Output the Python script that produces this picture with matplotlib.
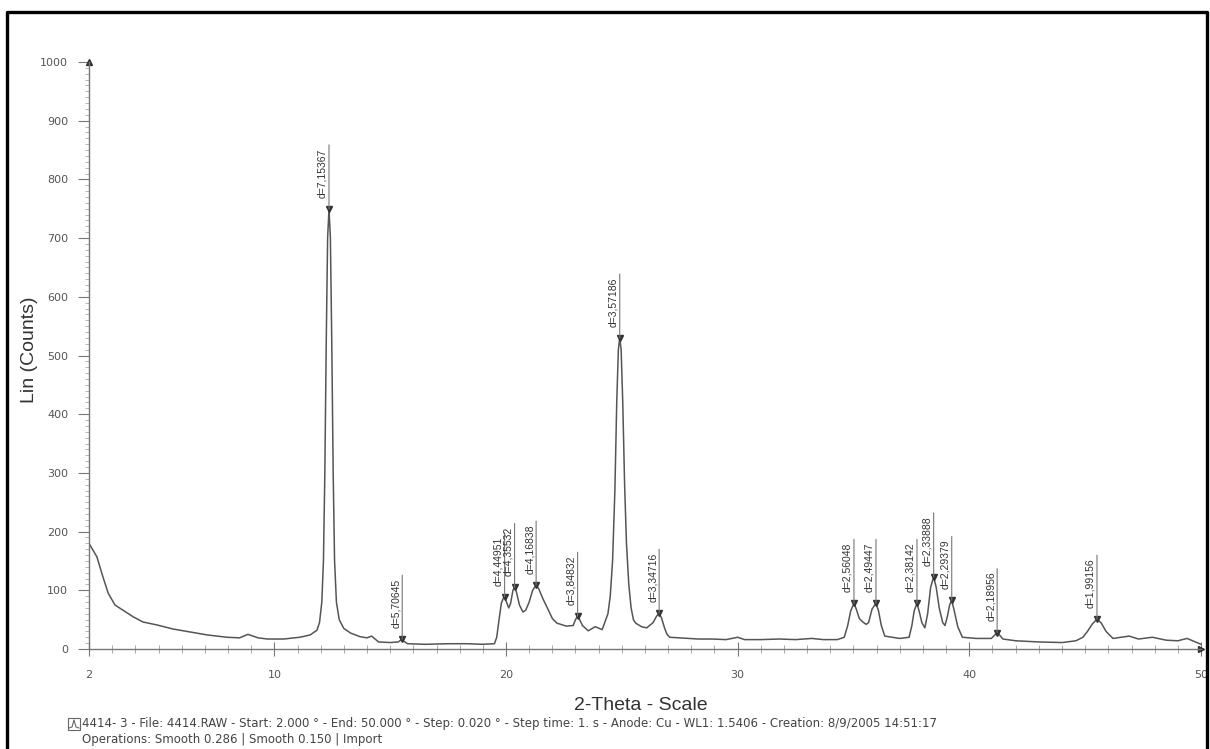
import matplotlib.pyplot as plt
from matplotlib.lines import Line2D
from matplotlib.patches import Rectangle
from matplotlib.ticker import MultipleLocator, FixedLocator

# XRD pattern: 2-theta (deg) and Lin (counts)
two_theta = [2.0, 2.34, 2.6, 2.83, 3.12, 3.47, 3.9, 4.33, 4.93, 5.63, 6.36, 7.1,
             7.95, 8.5, 8.86, 9.3, 9.7, 10.4, 11.1, 11.55, 11.84, 11.95, 12.05,
             12.12, 12.18, 12.24, 12.3, 12.36, 12.42, 12.48, 12.54, 12.6, 12.68,
             12.8, 13.0, 13.3, 13.7, 14.0, 14.2, 14.5, 15.0, 15.35, 15.45, 15.52,
             15.6, 15.75, 16.5, 17.5, 18.3, 19.0, 19.5, 19.6, 19.7, 19.8, 19.9,
             19.94, 20.02, 20.12, 20.2, 20.3, 20.37, 20.45, 20.58, 20.73, 20.85,
             21.0, 21.15, 21.3, 21.42, 21.6, 21.76, 22.0, 22.2, 22.6, 22.9, 23.0,
             23.09, 23.18, 23.3, 23.55, 23.85, 24.15, 24.4, 24.5, 24.6, 24.7,
             24.78, 24.85, 24.91, 24.97, 25.04, 25.12, 25.2, 25.3, 25.4, 25.5,
             25.6, 25.85, 26.07, 26.35, 26.5, 26.61, 26.72, 26.85, 26.95, 27.07,
             27.5, 28.3, 28.9, 29.5, 30.0, 30.3, 31.0, 31.8, 32.5, 33.2, 33.7,
             34.3, 34.6, 34.75, 34.88, 35.02, 35.12, 35.25, 35.4, 35.55, 35.65,
             35.8, 35.97, 36.08, 36.2, 36.35, 37.0, 37.4, 37.52, 37.62, 37.74,
             37.85, 37.95, 38.08, 38.2, 38.33, 38.46, 38.57, 38.7, 38.85, 38.95,
             39.05, 39.15, 39.24, 39.35, 39.5, 39.7, 40.3, 40.95, 41.1, 41.2,
             41.3, 41.45, 42.0, 43.0, 44.0, 44.6, 44.9, 45.1, 45.3, 45.51, 45.7,
             45.9, 46.2, 46.9, 47.3, 47.9, 48.5, 49.0, 49.4, 49.7, 50.0]
counts = [180, 157, 123, 95, 75, 66, 55, 46, 41, 34, 29, 24,
          20, 19, 25, 19, 17, 17, 20, 24, 32, 45, 80,
          150, 300, 520, 700, 750, 700, 520, 300, 150, 80,
          50, 35, 27, 21, 19, 22, 12, 11, 12, 15, 17,
          13, 9, 8, 9, 9, 8, 9, 20, 50, 78, 88,
          89, 80, 70, 78, 100, 105, 97, 75, 63, 66,
          80, 100, 109, 102, 85, 72, 52, 44, 39, 40, 50,
          56, 50, 40, 31, 38, 33, 60, 90, 150, 270,
          420, 510, 530, 510, 420, 280, 180, 110, 70, 50,
          44, 38, 36, 45, 56, 61, 52, 35, 25, 20,
          19, 17, 17, 16, 20, 16, 16, 17, 16, 18, 16,
          16, 20, 40, 65, 78, 68, 52, 46, 42, 45,
          68, 78, 65, 40, 22, 18, 20, 40, 65, 78,
          62, 45, 36, 60, 105, 123, 105, 70, 45, 40,
          55, 75, 83, 65, 38, 20, 18, 18, 24, 28,
          24, 17, 14, 12, 11, 14, 20, 30, 42, 51, 44,
          30, 18, 22, 17, 20, 15, 14, 18, 13, 8]

# marked peaks
peak_pos = [12.36, 15.52, 19.94, 20.37, 21.30, 23.09, 24.91, 26.61,
            35.02, 35.97, 37.74, 38.46, 39.24, 41.20, 45.51]
peak_cnt = [750, 17, 89, 105, 109, 56, 530, 61,
            78, 78, 78, 123, 83, 28, 51]
peak_lbl = ["d=7,15367", "d=5,70645", "d=4,44951", "d=4,35532", "d=4,16838",
            "d=3,84832", "d=3,57186", "d=3,34716", "d=2,56048", "d=2,49447",
            "d=2,38142", "d=2,33888", "d=2,29379", "d=2,18956", "d=1,99156"]

fig = plt.figure(figsize=(12.1, 7.49), dpi=100)
ax = fig.add_axes([89 / 1210, 1 - 649 / 749, (1201 - 89) / 1210, (649 - 62) / 749])

ax.plot(two_theta, counts, color="#555555", lw=1.1)

for x, y, s in zip(peak_pos, peak_cnt, peak_lbl):
    ax.plot(x, y, marker="v", color="#333333", ms=5, zorder=3)
    ax.annotate("", xy=(x, y), xytext=(0, 46), textcoords="offset points",
                arrowprops=dict(arrowstyle="-", color="#777777", lw=0.8,
                                shrinkA=0, shrinkB=0))
    ax.annotate(s, xy=(x, y), xytext=(-1, 8), textcoords="offset points",
                rotation=90, ha="right", va="bottom", fontsize=7.5,
                family="Liberation Sans", color="#333333")

ax.set_xlim(2, 50)
ax.set_ylim(0, 1000)
for side in ("top", "right"):
    ax.spines[side].set_visible(False)
for side in ("left", "bottom"):
    ax.spines[side].set_color("#777777")
    ax.spines[side].set_linewidth(1.0)

ax.xaxis.set_major_locator(FixedLocator([2, 10, 20, 30, 40, 50]))
ax.xaxis.set_minor_locator(MultipleLocator(1))
ax.yaxis.set_major_locator(MultipleLocator(100))
ax.yaxis.set_minor_locator(MultipleLocator(10))
ax.tick_params(axis="x", which="major", direction="inout", length=10, width=0.8,
               color="#777777", pad=10, labelsize=8, labelcolor="#555555")
ax.tick_params(axis="x", which="minor", direction="inout", length=6, width=0.6,
               color="#999999")
ax.tick_params(axis="y", which="major", direction="out", length=8, width=0.8,
               color="#777777", pad=7, labelsize=8, labelcolor="#555555")
ax.tick_params(axis="y", which="minor", direction="out", length=3, width=0.5,
               color="#999999")

# axis arrows
ax.plot(0, 1, marker="^", transform=ax.transAxes, color="#333333", ms=4, clip_on=False)
ax.plot(1, 0, marker=">", transform=ax.transAxes, color="#333333", ms=4, clip_on=False)

fig.text(30 / 1210, 1 - 350 / 749, "Lin (Counts)", rotation=90, ha="center",
         va="center", fontsize=14, family="Liberation Sans", color="#333333")
fig.text(641 / 1210, 1 - 706 / 749, "2-Theta - Scale", ha="center", va="center",
         fontsize=14, family="Liberation Sans", color="#333333")

fig.text(82 / 1210, 1 - 724 / 749,
         "4414- 3 - File: 4414.RAW - Start: 2.000 \u00b0 - End: 50.000 \u00b0 - "
         "Step: 0.020 \u00b0 - Step time: 1. s - Anode: Cu - WL1: 1.5406 - "
         "Creation: 8/9/2005 14:51:17",
         ha="left", va="center", fontsize=8.5, color="#444444")
fig.text(82 / 1210, 1 - 740 / 749,
         "Operations: Smooth 0.286 | Smooth 0.150 | Import",
         ha="left", va="center", fontsize=8.5, color="#444444")

# little pattern icon before the footer
fig.add_artist(Rectangle((68 / 1210, 1 - 730 / 749), 12 / 1210, 12 / 749,
                         transform=fig.transFigure, fill=False, ec="#666666", lw=0.8))
fig.add_artist(Line2D([69 / 1210, 72 / 1210, 74 / 1210, 76 / 1210, 79 / 1210],
                      [1 - 728 / 749, 1 - 727 / 749, 1 - 720 / 749, 1 - 727 / 749, 1 - 728 / 749],
                      transform=fig.transFigure, color="#666666", lw=0.8))

# outer frame of the scan
fig.add_artist(Line2D([7 / 1210, 7 / 1210, 1207 / 1210, 1207 / 1210],
                      [0, 1 - 12 / 749, 1 - 12 / 749, 0],
                      transform=fig.transFigure, color="black", lw=2.4))

fig.savefig("out.png", dpi=100)
